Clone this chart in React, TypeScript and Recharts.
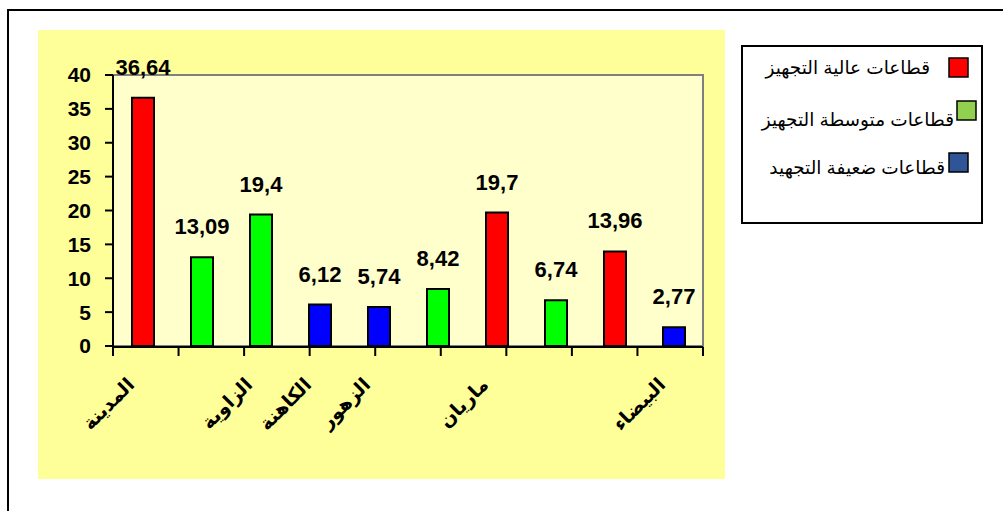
import React from "react";
import {
  BarChart,
  Bar,
  Cell,
  XAxis,
  YAxis,
  CartesianGrid,
  ReferenceArea,
  LabelList,
  Legend,
} from "recharts";

// sectors along the x axis (some bars have no label in the original)
const categories = ["المدينة", "", "الزاوية", "الكاهنة", "الزهور", "", "ماريان", "", "", "البيضاء"];
const values = [36.64, 13.09, 19.4, 6.12, 5.74, 8.42, 19.7, 6.74, 13.96, 2.77];
// 0 = high, 1 = medium, 2 = low equipment
const groups = [0, 1, 1, 2, 2, 1, 0, 1, 0, 2];

const barColors = ["#FF0000", "#00FF00", "#0000FF"];
const legendNames = ["قطاعات عالية التجهيز", "قطاعات متوسطة التجهيز", "قطاعات ضعيفة التجهيد"];
const legendColors = ["#FF0000", "#92D050", "#2F5597"];

const yTicks = [0, 5, 10, 15, 20, 25, 30, 35, 40];
const edgeTicks = categories.map((_, i) => i).concat(categories.length);

const FONT = "'Liberation Sans', Arial, 'DejaVu Sans', sans-serif";

const fmt = (v: number) => String(v).replace(".", ",");

function CategoryTick({ x, y, payload }: any) {
  const label = categories[payload.value] ?? "";
  const tx = x - 7;
  const ty = y + 40;
  return (
    <text
      x={tx}
      y={ty}
      textAnchor="end"
      transform={`rotate(-45, ${tx}, ${ty})`}
      fontFamily={FONT}
      fontWeight="bold"
      fontSize={19}
      fill="#000"
    >
      {label}
    </text>
  );
}

// legend rows: swatch position and text end, relative to the box
const legendRows = [
  { sx: 208, sy: 13, tx: 189, ty: 29 },
  { sx: 216, sy: 56, tx: 213, ty: 81 },
  { sx: 208, sy: 108, tx: 204, ty: 129 },
];

function LegendBox() {
  return (
    <svg width={242} height={179} style={{ display: "block" }}>
      <rect x={1} y={1} width={240} height={177} fill="#fff" stroke="#000" strokeWidth={2} />
      {legendNames.map((name, i) => (
        <g key={name}>
          <rect
            x={legendRows[i].sx}
            y={legendRows[i].sy}
            width={19}
            height={19}
            fill={legendColors[i]}
            stroke="#000"
            strokeWidth={1.5}
          />
          <text
            x={legendRows[i].tx}
            y={legendRows[i].ty}
            textAnchor="end"
            fontFamily={FONT}
            fontSize={18.5}
            fill="#000"
          >
            {name}
          </text>
        </g>
      ))}
    </svg>
  );
}

export default function App() {
  const data = categories.map((name, i) => ({ id: i, name, value: values[i], group: groups[i] }));

  return (
    <div
      style={{
        position: "fixed",
        left: 0,
        top: 0,
        width: 1003,
        height: 511,
        overflow: "hidden",
        background: "#fff",
      }}
    >
      <div
        style={{
          position: "absolute",
          left: 7,
          top: 9,
          width: 1100,
          height: 600,
          border: "2px solid #000",
        }}
      />
      <div style={{ position: "absolute", left: 38, top: 30, width: 687, height: 449, background: "#FFFF99" }}>
        <BarChart
          width={687}
          height={449}
          data={data}
          margin={{ top: 45, right: 22, left: 15, bottom: 130 }}
          style={{ overflow: "visible" }}
        >
          <CartesianGrid horizontal={false} vertical={false} fill="#FFFFCC" />
          <ReferenceArea y1={0} y2={40} fill="none" stroke="#808080" strokeWidth={2} ifOverflow="visible" />
          <XAxis
            dataKey="id"
            type="category"
            height={1}
            tickSize={0}
            tickMargin={0}
            axisLine={false}
            tickLine={false}
            interval={0}
            tick={<CategoryTick />}
          />
          <XAxis
            xAxisId="edges"
            type="number"
            domain={[0, categories.length]}
            ticks={edgeTicks}
            interval={0}
            tickFormatter={() => ""}
            height={2}
            tickSize={9}
            axisLine={{ stroke: "#000", strokeWidth: 2 }}
            tickLine={{ stroke: "#000", strokeWidth: 2 }}
          />
          <YAxis
            width={60}
            domain={[0, 40]}
            ticks={yTicks}
            interval={0}
            tickSize={8}
            tickMargin={14}
            axisLine={{ stroke: "#000", strokeWidth: 2 }}
            tickLine={{ stroke: "#000", strokeWidth: 2 }}
            tick={{ fill: "#000", fontFamily: FONT, fontWeight: "bold", fontSize: 21 }}
          />
          <Legend
            layout="horizontal"
            verticalAlign="middle"
            align="center"
            content={() => <LegendBox />}
            wrapperStyle={{ left: 703, top: 15, width: 242, height: 179 }}
          />
          <Bar dataKey="value" barSize={22} stroke="#000" strokeWidth={2} isAnimationActive={false}>
            {data.map((d) => (
              <Cell key={d.id} fill={barColors[d.group]} />
            ))}
            <LabelList
              dataKey="value"
              position="top"
              offset={23}
              formatter={(v: any) => fmt(Number(v))}
              style={{ fill: "#000", fontFamily: FONT, fontWeight: "bold", fontSize: 22 }}
            />
          </Bar>
        </BarChart>
      </div>
    </div>
  );
}
